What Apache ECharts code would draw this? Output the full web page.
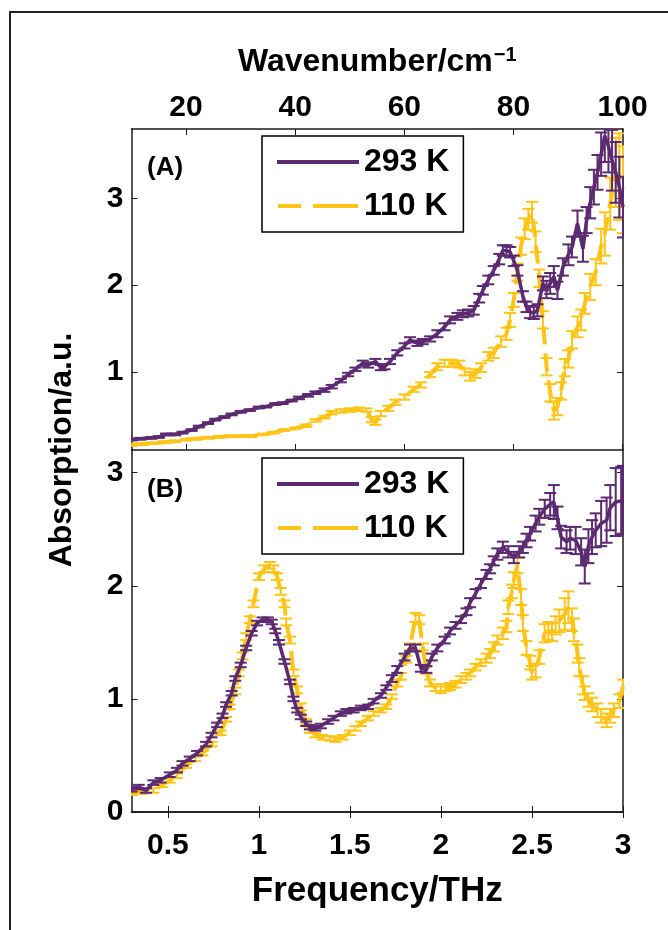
<!DOCTYPE html>
<html><head><meta charset="utf-8">
<script src="https://cdn.jsdelivr.net/npm/echarts@6/dist/echarts.min.js"></script>
<style>html,body{margin:0;padding:0;background:#fff}#c{width:668px;height:930px}</style>
</head><body><div id="c"></div>
<script>
// ---- data (frequency THz, absorption a.u., error) ----
const WN_PER_THZ = 33.356;
const freqTicks = [0.5, 1, 1.5, 2, 2.5, 3];
const wnTicks = [20, 40, 60, 80, 100];
const yTicksA = [1, 2, 3];
const yTicksB = [0, 1, 2, 3];
const seriesNames = ['293 K', '110 K'];
const panelLabels = ['(A)', '(B)'];

const A293 = [[0.30,0.22,0.01],[0.35,0.23,0.01],[0.41,0.24,0.01],[0.45,0.25,0.01],[0.49,0.28,0.01],[0.54,0.28,0.01],[0.58,0.30,0.01],[0.63,0.33,0.01],[0.67,0.37,0.01],[0.72,0.41,0.01],[0.76,0.45,0.01],[0.81,0.48,0.01],[0.85,0.51,0.01],[0.90,0.54,0.01],[0.95,0.56,0.01],[1.00,0.59,0.01],[1.04,0.60,0.01],[1.09,0.63,0.01],[1.13,0.64,0.01],[1.18,0.67,0.01],[1.22,0.70,0.015],[1.27,0.73,0.015],[1.31,0.76,0.015],[1.36,0.79,0.02],[1.40,0.83,0.02],[1.45,0.90,0.02],[1.49,0.97,0.02],[1.53,1.03,0.02],[1.57,1.10,0.03],[1.60,1.08,0.03],[1.64,1.12,0.03],[1.67,1.05,0.03],[1.69,1.06,0.03],[1.72,1.12,0.03],[1.76,1.22,0.03],[1.80,1.30,0.03],[1.83,1.37,0.03],[1.87,1.33,0.03],[1.90,1.35,0.03],[1.94,1.38,0.03],[1.98,1.44,0.04],[2.02,1.52,0.04],[2.05,1.60,0.04],[2.09,1.64,0.04],[2.12,1.67,0.04],[2.15,1.68,0.04],[2.18,1.71,0.05],[2.21,1.85,0.05],[2.23,1.94,0.05],[2.26,2.06,0.05],[2.29,2.17,0.05],[2.32,2.30,0.06],[2.34,2.40,0.06],[2.36,2.40,0.06],[2.38,2.38,0.06],[2.40,2.28,0.06],[2.42,2.17,0.06],[2.45,1.87,0.06],[2.47,1.75,0.06],[2.49,1.69,0.07],[2.51,1.68,0.07],[2.53,1.71,0.07],[2.56,2.02,0.08],[2.58,1.95,0.1],[2.60,2.02,0.12],[2.62,2.10,0.12],[2.64,1.94,0.1],[2.67,2.21,0.1],[2.70,2.35,0.12],[2.72,2.44,0.12],[2.75,2.71,0.15],[2.78,2.42,0.15],[2.80,2.75,0.15],[2.82,2.95,0.18],[2.84,3.13,0.2],[2.86,3.30,0.2],[2.88,3.51,0.25],[2.90,3.72,0.3],[2.92,3.60,0.3],[2.94,3.44,0.35],[2.96,3.30,0.35],[2.98,3.13,0.35],[3.00,2.90,0.35]];

const A110 = [[0.30,0.16,0.01],[0.36,0.17,0.01],[0.42,0.18,0.01],[0.48,0.19,0.01],[0.54,0.20,0.01],[0.60,0.22,0.01],[0.66,0.23,0.01],[0.72,0.24,0.01],[0.78,0.25,0.01],[0.84,0.26,0.01],[0.90,0.26,0.01],[0.96,0.26,0.01],[1.02,0.28,0.01],[1.08,0.30,0.01],[1.14,0.33,0.01],[1.20,0.35,0.01],[1.26,0.38,0.015],[1.31,0.44,0.015],[1.36,0.48,0.015],[1.40,0.53,0.02],[1.45,0.55,0.02],[1.50,0.56,0.02],[1.55,0.57,0.02],[1.59,0.56,0.02],[1.62,0.45,0.03],[1.64,0.42,0.03],[1.67,0.52,0.03],[1.71,0.58,0.03],[1.75,0.65,0.03],[1.80,0.71,0.03],[1.85,0.80,0.03],[1.89,0.85,0.03],[1.94,0.97,0.03],[1.98,1.06,0.04],[2.02,1.10,0.04],[2.06,1.10,0.04],[2.10,1.09,0.04],[2.13,1.00,0.04],[2.16,0.95,0.05],[2.19,0.98,0.05],[2.22,1.05,0.05],[2.26,1.18,0.05],[2.29,1.22,0.06],[2.33,1.35,0.06],[2.36,1.44,0.07],[2.38,1.60,0.08],[2.40,1.83,0.08],[2.42,2.15,0.1],[2.44,2.45,0.1],[2.46,2.65,0.12],[2.48,2.76,0.12],[2.50,2.84,0.12],[2.52,2.50,0.12],[2.54,2.08,0.1],[2.56,1.60,0.1],[2.58,1.06,0.1],[2.60,0.76,0.1],[2.62,0.55,0.1],[2.64,0.60,0.1],[2.66,0.78,0.1],[2.68,1.05,0.1],[2.70,1.15,0.1],[2.72,1.37,0.1],[2.75,1.52,0.12],[2.77,1.60,0.12],[2.79,1.79,0.12],[2.82,1.98,0.15],[2.85,2.15,0.15],[2.88,2.45,0.2],[2.90,2.59,0.25],[2.93,2.94,0.3],[2.96,3.30,0.4],[2.98,3.25,0.5],[3.00,3.10,0.5]];

const B293 = [[0.30,0.20,0.02],[0.34,0.22,0.02],[0.38,0.19,0.02],[0.42,0.26,0.02],[0.46,0.28,0.02],[0.51,0.33,0.02],[0.55,0.37,0.02],[0.58,0.43,0.02],[0.62,0.47,0.02],[0.66,0.52,0.02],[0.71,0.60,0.02],[0.74,0.68,0.02],[0.77,0.77,0.02],[0.80,0.85,0.02],[0.82,0.95,0.02],[0.85,1.05,0.02],[0.87,1.18,0.02],[0.90,1.30,0.02],[0.93,1.45,0.02],[0.96,1.58,0.02],[0.99,1.67,0.02],[1.02,1.70,0.02],[1.05,1.70,0.02],[1.07,1.68,0.02],[1.09,1.60,0.02],[1.11,1.50,0.02],[1.14,1.33,0.02],[1.17,1.15,0.02],[1.19,1.00,0.02],[1.21,0.90,0.02],[1.23,0.84,0.02],[1.26,0.78,0.02],[1.28,0.75,0.02],[1.31,0.74,0.02],[1.34,0.76,0.02],[1.38,0.80,0.02],[1.41,0.83,0.02],[1.45,0.87,0.02],[1.48,0.89,0.02],[1.52,0.90,0.02],[1.56,0.92,0.02],[1.60,0.93,0.02],[1.63,0.98,0.02],[1.67,1.03,0.02],[1.70,1.10,0.02],[1.73,1.18,0.03],[1.76,1.26,0.03],[1.80,1.37,0.03],[1.83,1.45,0.03],[1.86,1.45,0.03],[1.89,1.27,0.03],[1.92,1.26,0.03],[1.95,1.37,0.03],[1.98,1.45,0.03],[2.02,1.52,0.03],[2.05,1.60,0.03],[2.08,1.65,0.03],[2.11,1.70,0.03],[2.14,1.77,0.03],[2.16,1.85,0.04],[2.19,1.93,0.04],[2.22,2.02,0.04],[2.25,2.10,0.04],[2.27,2.15,0.04],[2.29,2.22,0.04],[2.31,2.28,0.05],[2.34,2.34,0.05],[2.37,2.30,0.05],[2.40,2.25,0.05],[2.43,2.30,0.05],[2.45,2.34,0.05],[2.47,2.40,0.06],[2.49,2.46,0.06],[2.52,2.55,0.07],[2.54,2.61,0.07],[2.57,2.68,0.08],[2.60,2.72,0.1],[2.62,2.74,0.15],[2.64,2.60,0.1],[2.66,2.43,0.1],[2.69,2.39,0.1],[2.71,2.42,0.1],[2.74,2.40,0.12],[2.77,2.30,0.12],[2.79,2.17,0.15],[2.81,2.35,0.15],[2.83,2.43,0.15],[2.85,2.49,0.15],[2.88,2.55,0.2],[2.91,2.58,0.2],[2.93,2.69,0.2],[2.96,2.74,0.3],[2.99,2.75,0.3],[3.00,2.76,0.3]];

const B110 = [[0.30,0.17,0.02],[0.36,0.18,0.02],[0.42,0.19,0.02],[0.47,0.24,0.02],[0.51,0.28,0.02],[0.55,0.32,0.02],[0.60,0.41,0.02],[0.65,0.47,0.02],[0.69,0.52,0.02],[0.74,0.60,0.02],[0.79,0.70,0.02],[0.82,0.82,0.02],[0.84,0.93,0.02],[0.87,1.07,0.03],[0.89,1.23,0.03],[0.91,1.38,0.03],[0.93,1.55,0.03],[0.95,1.70,0.03],[0.97,1.84,0.03],[1.00,2.08,0.03],[1.03,2.15,0.03],[1.06,2.18,0.03],[1.08,2.15,0.03],[1.10,2.08,0.03],[1.12,1.95,0.03],[1.14,1.84,0.03],[1.15,1.68,0.03],[1.17,1.52,0.03],[1.19,1.23,0.03],[1.21,1.08,0.03],[1.23,0.93,0.03],[1.26,0.80,0.02],[1.28,0.72,0.02],[1.31,0.68,0.02],[1.35,0.66,0.02],[1.39,0.65,0.02],[1.42,0.64,0.02],[1.46,0.66,0.02],[1.50,0.70,0.02],[1.53,0.74,0.02],[1.56,0.78,0.02],[1.60,0.83,0.02],[1.63,0.87,0.02],[1.67,0.90,0.02],[1.70,0.93,0.02],[1.73,1.02,0.02],[1.76,1.14,0.03],[1.78,1.20,0.03],[1.81,1.35,0.03],[1.83,1.46,0.03],[1.86,1.72,0.04],[1.88,1.70,0.04],[1.90,1.46,0.03],[1.92,1.25,0.03],[1.94,1.14,0.03],[1.97,1.10,0.03],[2.00,1.08,0.03],[2.03,1.10,0.03],[2.05,1.11,0.03],[2.08,1.13,0.03],[2.11,1.17,0.03],[2.14,1.20,0.03],[2.16,1.23,0.03],[2.19,1.28,0.03],[2.22,1.32,0.03],[2.25,1.36,0.04],[2.27,1.40,0.04],[2.29,1.46,0.04],[2.31,1.52,0.04],[2.34,1.58,0.05],[2.36,1.64,0.05],[2.37,1.81,0.06],[2.39,1.95,0.06],[2.40,2.05,0.07],[2.42,2.18,0.07],[2.44,1.90,0.07],[2.45,1.67,0.07],[2.47,1.45,0.06],[2.49,1.32,0.06],[2.50,1.23,0.06],[2.52,1.25,0.06],[2.54,1.37,0.06],[2.57,1.58,0.08],[2.59,1.60,0.08],[2.61,1.59,0.08],[2.63,1.65,0.08],[2.65,1.69,0.1],[2.68,1.75,0.14],[2.70,1.81,0.14],[2.72,1.70,0.1],[2.73,1.61,0.1],[2.75,1.40,0.08],[2.76,1.28,0.08],[2.78,1.12,0.08],[2.79,1.05,0.06],[2.81,0.99,0.06],[2.83,0.95,0.06],[2.86,0.90,0.06],[2.88,0.85,0.06],[2.91,0.81,0.06],[2.93,0.85,0.06],[2.95,0.90,0.06],[2.98,0.98,0.06],[3.00,1.11,0.06]];

// ---- styles ----
const FONT = "'Liberation Sans', Arial, Helvetica, sans-serif";
const PURPLE = '#5c2a70';
const YELLOW = '#ffc416';
const AXIS = '#1a1a1a';

const chart = echarts.init(document.getElementById('c'), null, {renderer: 'canvas'});

function errRender(params, api) {
  const x = api.value(0), y = api.value(1), e = api.value(2);
  const t = api.coord([x, y + e]);
  const b = api.coord([x, y - e]);
  const hw = 6;
  const style = {stroke: api.visual('color'), lineWidth: 2};
  return {type: 'group', children: [
    {type: 'line', shape: {x1: t[0], y1: t[1], x2: b[0], y2: b[1]}, style: style},
    {type: 'line', shape: {x1: t[0]-hw, y1: t[1], x2: t[0]+hw, y2: t[1]}, style: style},
    {type: 'line', shape: {x1: b[0]-hw, y1: b[1], x2: b[0]+hw, y2: b[1]}, style: style}
  ]};
}

const wnPos = wnTicks.map(w => w / WN_PER_THZ);
const labelStyle = {fontFamily: FONT, fontWeight: 'bold', fontSize: 30, color: '#000'};
const lineAx = {show: true, lineStyle: {color: AXIS, width: 1.5}};
const tickAx = (vals) => ({show: true, inside: true, length: 6, customValues: vals, lineStyle: {color: AXIS, width: 1}});

function xAx(grid, pos, tickVals, showLabels, fmt, extra) {
  return Object.assign({
    type: 'value', gridIndex: grid, position: pos, min: 0.3, max: 3,
    axisLine: lineAx, axisTick: tickAx(tickVals), splitLine: {show: false},
    axisLabel: Object.assign({show: showLabels, customValues: tickVals, formatter: fmt, margin: 6}, labelStyle)
  }, extra || {});
}
function yAx(grid, pos, mn, mx, tickVals, showLabels) {
  return {
    type: 'value', gridIndex: grid, position: pos, min: mn, max: mx,
    axisLine: lineAx, axisTick: tickAx(tickVals), splitLine: {show: false},
    axisLabel: Object.assign({show: showLabels, customValues: tickVals, margin: 8}, labelStyle)
  };
}

const xAxes = [
  xAx(0, 'bottom', wnPos, false),
  xAx(0, 'top', wnPos, true, v => String(Math.round(v * WN_PER_THZ)), {
    name: 'Wavenumber/cm{sup|\u22121}', nameLocation: 'middle', nameGap: 50,
    nameTextStyle: {fontFamily: FONT, fontWeight: 'bold', fontSize: 32, color: '#000',
      rich: {sup: {fontFamily: FONT, fontWeight: 'bold', fontSize: 20, color: '#000', verticalAlign: 'top', padding: [0, 0, 14, 1]}}}
  }),
  xAx(1, 'bottom', freqTicks, true, v => String(v), {
    name: 'Frequency/THz', nameLocation: 'middle', nameGap: 62,
    nameTextStyle: {fontFamily: FONT, fontWeight: 'bold', fontSize: 35, color: '#000'}
  }),
  xAx(1, 'top', freqTicks, false)
];
xAxes[2].axisLabel.margin = 19;

const yAxes = [
  yAx(0, 'left', 0.1, 3.8, yTicksA, true),
  yAx(0, 'right', 0.1, 3.8, yTicksA, false),
  yAx(1, 'left', 0, 3.2, yTicksB, true),
  yAx(1, 'right', 0, 3.2, yTicksB, false)
];

function panelSeries(xi, yi, d293, d110) {
  return [
    {type: 'line', name: seriesNames[1], xAxisIndex: xi, yAxisIndex: yi, data: d110.map(d => [d[0], d[1]]),
     symbol: 'none', itemStyle: {color: YELLOW}, lineStyle: {color: YELLOW, width: 4, type: [18, 9]}, z: 2},
    {type: 'custom', xAxisIndex: xi, yAxisIndex: yi, data: d110, renderItem: errRender, clip: true,
     encode: {x: 0, y: 1}, itemStyle: {color: YELLOW}, z: 2},
    {type: 'line', name: seriesNames[0], xAxisIndex: xi, yAxisIndex: yi, data: d293.map(d => [d[0], d[1]]),
     symbol: 'none', itemStyle: {color: PURPLE}, lineStyle: {color: PURPLE, width: 3.5}, z: 3},
    {type: 'custom', xAxisIndex: xi, yAxisIndex: yi, data: d293, renderItem: errRender, clip: true,
     encode: {x: 0, y: 1}, itemStyle: {color: PURPLE}, z: 3}
  ];
}

const legendIcons = ['path://M0,0h82v4h-82z', 'path://M0,0h23v4h-23zM35,0h45v4h-45z'];

function legendAt(top) {
  return {
    data: seriesNames.map((n, i) => ({name: n, icon: legendIcons[i]})),
    orient: 'vertical', left: 262, top: top, selectedMode: false,
    padding: [10, 14, 10, 15], itemWidth: 82, itemHeight: 4, itemGap: 12,
    backgroundColor: '#fff', borderColor: '#000', borderWidth: 1.5, borderRadius: 0,
    textStyle: {fontFamily: FONT, fontWeight: 'bold', fontSize: 32, color: '#000'}
  };
}

const option = {
  animation: false,
  backgroundColor: '#fff',
  grid: [
    {left: 131.5, top: 129, width: 491.5, height: 321, containLabel: false},
    {left: 131.5, top: 450, width: 491.5, height: 362, containLabel: false}
  ],
  xAxis: xAxes,
  yAxis: yAxes,
  legend: [legendAt(136), legendAt(458)],
  series: [].concat(panelSeries(0, 0, A293, A110), panelSeries(2, 2, B293, B110)),
  graphic: [
    {type: 'polyline', shape: {points: [[10, 930], [10, 12], [668, 12]]}, style: {stroke: '#222', lineWidth: 2, fill: null}, silent: true},
    {type: 'text', x: 147, y: 168, style: {text: panelLabels[0], font: "bold 26px " + FONT, fill: '#000', textVerticalAlign: 'middle'}},
    {type: 'text', x: 147, y: 490, style: {text: panelLabels[1], font: "bold 26px " + FONT, fill: '#000', textVerticalAlign: 'middle'}},
    {type: 'text', x: 62, y: 450, rotation: Math.PI / 2, style: {text: 'Absorption/a.u.', font: "bold 32px " + FONT, fill: '#000', textAlign: 'center', textVerticalAlign: 'middle'}}
  ]
};
chart.setOption(option);
</script>
</body></html>
